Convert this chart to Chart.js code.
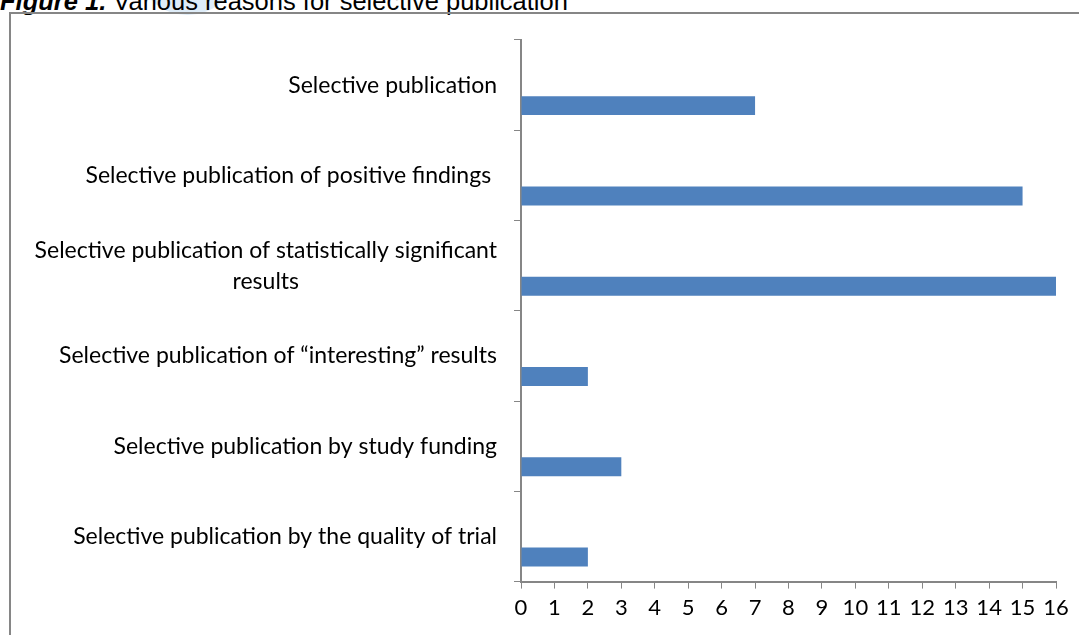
<!DOCTYPE html>
<html>
<head>
<meta charset="utf-8">
<script src="https://cdn.jsdelivr.net/npm/chart.js@4"></script>
<style>
    html, body { margin: 0; padding: 0; background: #fff; overflow: hidden; }
    body { width: 1079px; height: 635px; position: relative; }
    .title {
        position: absolute; left: 0; top: -11px; white-space: nowrap;
        font-family: "Liberation Sans", Arial, sans-serif; font-size: 25.5px; line-height: 25px; color: #000;
    }
    .title b { font-style: italic; }
    .blob {
        position: absolute; left: 140px; top: -70px; width: 95px; height: 85px;
        border-radius: 50%; background: rgba(160, 200, 235, 0.35);
    }
    .frame {
        position: absolute; left: 9px; top: 12px; width: 1100px; height: 700px;
        border: 2px solid #868686;
    }
    #wrap { position: absolute; left: 0; top: 0; width: 1079px; height: 635px; }
</style>
</head>
<body>
<div class="blob"></div>
<div class="title"><b>Figure 1.</b> Various reasons for selective publication</div>
<div class="frame"></div>
<div id="wrap"><canvas id="reasonsChart" width="1079" height="635"></canvas></div>
<script>
const categories = [
    ["Selective publication"],
    ["Selective publication of positive findings "],
    ["Selective publication of statistically significant", "results"],
    ["Selective publication of \u201cinteresting\u201d results"],
    ["Selective publication by study funding"],
    ["Selective publication by the quality of trial"]
];
const responses = [7, 15, 16, 2, 3, 2];
const emptySeries = [null, null, null, null, null, null];
const xTicks = [0, 16, 1]; // min, max, step

const LABEL_FONT = '23px Lato, "Open Sans", sans-serif';
const AXIS_GREY = '#868686';

// draws the category labels: right aligned, wrapped lines centred on each other
const categoryLabels = {
    id: 'categoryLabels',
    afterDraw(chart) {
        const ctx = chart.ctx;
        const yScale = chart.scales.y;
        const rightEdge = yScale.right - 24;
        const lineH = 31;
        ctx.save();
        ctx.font = LABEL_FONT;
        ctx.fillStyle = '#000';
        ctx.textBaseline = 'middle';
        ctx.textAlign = 'center';
        categories.forEach((lines, i) => {
            const yc = yScale.getPixelForValue(i);
            const widest = Math.max(...lines.map(l => ctx.measureText(l).width));
            const xc = rightEdge - widest / 2;
            const top = yc - (lines.length - 1) * lineH / 2;
            lines.forEach((l, j) => ctx.fillText(l, xc, top + j * lineH));
        });
        ctx.restore();
    }
};

function initChart() {
    const ctx = document.getElementById('reasonsChart').getContext('2d');
    Chart.defaults.font.family = 'Lato, "Open Sans", sans-serif';
    Chart.defaults.color = '#000';

    new Chart(ctx, {
        type: 'bar',
        data: {
            labels: categories.map(c => c.join(' ')),
            datasets: [
                {
                    label: 'blank',
                    data: emptySeries,
                    backgroundColor: '#4F81BD'
                },
                {
                    label: 'Responses',
                    data: responses,
                    backgroundColor: '#4F81BD',
                    borderWidth: 0
                }
            ]
        },
        plugins: [categoryLabels],
        options: {
            indexAxis: 'y',
            responsive: false,
            animation: false,
            categoryPercentage: 0.91,
            barPercentage: 0.46,
            layout: { padding: { top: 40, right: 23, bottom: 8, left: 0 } },
            scales: {
                y: {
                    offset: true,
                    grid: {
                        offset: true,
                        drawOnChartArea: false,
                        tickLength: 7,
                        tickColor: AXIS_GREY,
                        tickWidth: 1
                    },
                    border: { color: AXIS_GREY, width: 2 },
                    ticks: { display: false },
                    afterFit(scale) { scale.width = 521; }
                },
                x: {
                    min: xTicks[0],
                    max: xTicks[1],
                    grid: {
                        drawOnChartArea: false,
                        tickLength: 7,
                        tickColor: AXIS_GREY,
                        tickWidth: 1
                    },
                    border: { color: AXIS_GREY, width: 2 },
                    ticks: {
                        stepSize: xTicks[2],
                        padding: 6,
                        font: { size: 22 },
                        color: '#000'
                    }
                }
            },
            plugins: {
                legend: { display: false },
                tooltip: { enabled: false }
            }
        }
    });
}

document.addEventListener('DOMContentLoaded', initChart);
</script>
</body>
</html>
